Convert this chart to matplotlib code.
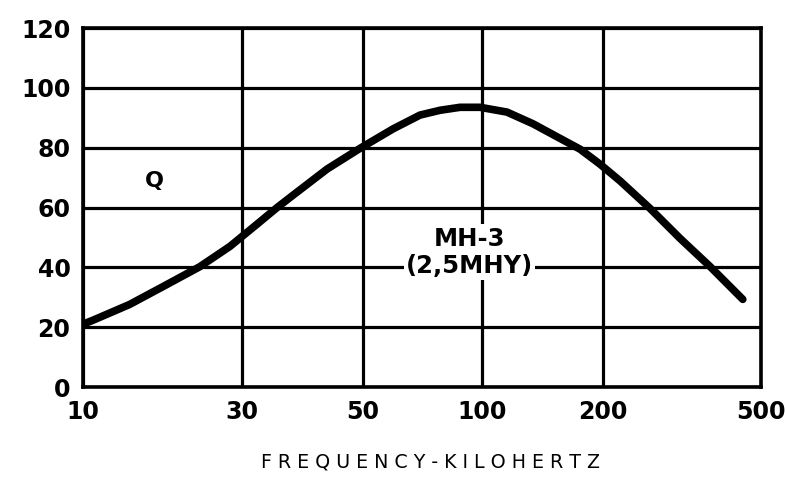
import matplotlib
matplotlib.use('Agg')
import matplotlib.pyplot as plt
import numpy as np

#====================================================================
''' Data read off the chart '''
freq_ticks = [10, 30, 50, 100, 200, 500]          # kHz, grid columns
q_ticks = [0, 20, 40, 60, 80, 100, 120]

freq_khz = [10, 10.7, 13.8, 17.4, 22.4, 27.6, 32.0, 34.8, 37.2, 43.0,
            49.4, 59.6, 69.7, 78.3, 88.0, 98.9, 115.4, 133.9, 156.4,
            175.4, 196.6, 220.8, 262.7, 312.6, 372, 450]
q_value = [21.0, 22.3, 27.6, 33.6, 40.2, 47.0, 54.5, 60.0, 64.1, 72.9,
           79.8, 86.3, 90.9, 92.5, 93.5, 93.5, 91.9, 88.0, 83.1,
           79.5, 74.5, 68.9, 59.7, 49.7, 40.3, 29.3]

curve_label = 'MH-3\n(2,5MHY)'
#====================================================================

# the paper uses uneven column widths, so map log(f) piecewise onto them
col_pos = [0, 1.59, 2.80, 3.99, 5.20, 6.78]
log_ticks = np.log10(freq_ticks)

def fwd(x):
    x = np.clip(np.asarray(x, dtype=float), 1e-3, None)
    return np.interp(np.log10(x), log_ticks, col_pos,
                     left=-np.inf, right=np.inf)

def inv(p):
    return 10 ** np.interp(p, col_pos, log_ticks)

fig = plt.figure(figsize=(7.85, 4.79), dpi=100)
ax = fig.add_axes([0.1057, 0.192, 0.8637, 0.7495])

ax.set_xscale('function', functions=(fwd, inv))
ax.set_xlim(10, 500)
ax.set_ylim(0, 120)

ax.set_xticks(freq_ticks)
ax.set_xticklabels([str(f) for f in freq_ticks], fontweight='bold')
ax.set_yticks(q_ticks)
ax.set_yticklabels([str(q) for q in q_ticks], fontweight='bold')
ax.minorticks_off()
ax.tick_params(length=0, labelsize=17, pad=9)

ax.grid(True, color='black', linewidth=2.3)
ax.set_axisbelow(True)
for s in ax.spines.values():
    s.set_linewidth(2.6)

ax.plot(freq_khz, q_value, color='black', linewidth=5.5,
        solid_capstyle='round', solid_joinstyle='round', zorder=3)

ax.text(16.4, 69, 'Q', fontsize=16, fontweight='bold',
        ha='center', va='center')
ax.text(93, 45, curve_label, fontsize=17.5, fontweight='bold',
        ha='center', va='center', linespacing=1.2, zorder=4,
        bbox=dict(facecolor='white', edgecolor='none', pad=1.5))

fig.text(0.549, 0.036, 'F R E Q U E N C Y - K I L O H E R T Z',
         fontsize=13.7, ha='center', va='center')

fig.savefig('out.png', dpi=100, facecolor='white')
